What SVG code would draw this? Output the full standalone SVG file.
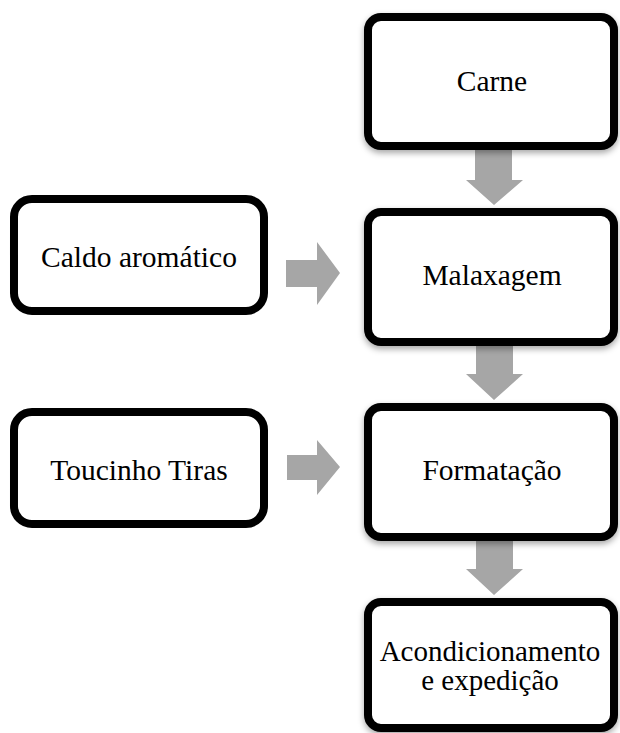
<svg xmlns="http://www.w3.org/2000/svg" width="620" height="733" viewBox="0 0 620 733">
<style>
.box{fill:#fff;stroke:#000;stroke-width:8}
.lbl{fill:#000;text-anchor:middle}
.arr{fill:#a6a6a6}
</style>
<defs>
<filter id="sh" x="-10%" y="-10%" width="120%" height="130%">
<feDropShadow dx="0" dy="3" stdDeviation="3" flood-color="#000" flood-opacity="0.35"/>
</filter>
</defs>
<g id="connectors">
<polygon class="arr" points="475,150 512,150 512,180 523,180 494,205 466,180 475,180"/>
<polygon class="arr" points="476,346 513,346 513,374 523,374 494,400 466,374 476,374"/>
<polygon class="arr" points="476,541 513,541 513,569 523,569 494,595 466,569 476,569"/>
<polygon class="arr" points="286,260 317,260 317,242 340,273 317,305 317,287 286,287"/>
<polygon class="arr" points="287,455 317,455 317,440 340,467 317,495 317,480 287,480"/>
</g>
<g font-family="'Liberation Serif', 'DejaVu Serif', serif" font-size="29.5">
<g id="carne">
<rect class="box" x="368" y="17" width="246" height="129" rx="13" filter="url(#sh)"/>
<text class="lbl" x="492" y="91">Carne</text>
</g>
<g id="malaxagem">
<rect class="box" x="368" y="212" width="246" height="130" rx="13" filter="url(#sh)"/>
<text class="lbl" x="492" y="285">Malaxagem</text>
</g>
<g id="formatacao">
<rect class="box" x="368" y="407" width="246" height="130" rx="13" filter="url(#sh)"/>
<text class="lbl" x="492" y="480">Formatação</text>
</g>
<g id="acondicionamento">
<rect class="box" x="368" y="602" width="246" height="126" rx="13" filter="url(#sh)"/>
<text class="lbl" x="490" y="661" font-size="29">Acondicionamento</text>
<text class="lbl" x="490" y="690" font-size="29">e expedição</text>
</g>
<g id="caldo">
<rect class="box" x="14" y="199" width="250" height="112" rx="18"/>
<text class="lbl" x="139" y="267">Caldo aromático</text>
</g>
<g id="toucinho">
<rect class="box" x="14" y="412" width="250" height="112" rx="18"/>
<text class="lbl" x="139" y="480">Toucinho Tiras</text>
</g>
</g>
</svg>
